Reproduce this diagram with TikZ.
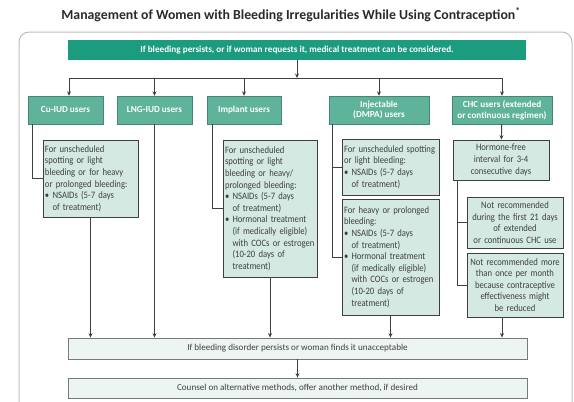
\documentclass[tikz,border=0pt]{standalone}
\usepackage{fontspec}
\setmainfont{Carlito}
\newfontfamily\condfont{Carlito}[FakeStretch=0.88]
\usetikzlibrary{arrows.meta}
\definecolor{titlecol}{HTML}{2A2A2A}
\definecolor{bannercol}{HTML}{1B9C7F}
\definecolor{headcol}{HTML}{5FB39B}
\definecolor{stepcol}{HTML}{D3E9E1}
\definecolor{endcol}{HTML}{ECF5F1}
\definecolor{linecol}{HTML}{3F3F3F}
\definecolor{framecol}{HTML}{BDBDBD}
\newcommand{\bul}{\textbullet\ }
\newcommand{\bulgap}{\hphantom{\textbullet\ }}
\hyphenpenalty=10000
\exhyphenpenalty=10000

\begin{document}
\begin{tikzpicture}[x=1pt,y=-1pt,
  headbox/.style={draw=headcol!75!black,fill=headcol,text=white,align=center,
    font=\fontsize{9.2}{10.8}\selectfont\bfseries,minimum height=28pt,inner sep=1pt},
  stepbox/.style={draw=linecol,fill=stepcol,text=linecol,line width=0.8pt,
    font=\condfont\fontsize{9.8}{11.6}\selectfont,inner sep=2pt},
  endbox/.style={draw=linecol!70,fill=endcol,text=linecol,line width=0.8pt,
    font=\fontsize{9.1}{10}\selectfont,minimum width=459pt,minimum height=21pt,inner sep=0pt},
  link/.style={draw=linecol,line width=0.9pt},
  arr/.style={link,-{Stealth[length=4.5pt,width=4pt]}}]
\useasboundingbox (0,0) rectangle (574,402);

% frame and title
\draw[framecol,line width=1pt,rounded corners=10pt] (19,402) -- (19,32) -- (572,32) -- (572,402);
\node[font=\fontsize{13.8}{16}\selectfont\bfseries,text=titlecol] (title) at (291,15)
  {Management of Women with Bleeding Irregularities While Using Contraception\textsuperscript{*}};
\node[fill=bannercol,text=white,font=\fontsize{9.2}{10}\selectfont\bfseries,
  minimum width=458pt,minimum height=20pt,inner sep=0pt] (banner) at (297,50)
  {If bleeding persists, or if woman requests it, medical treatment can be considered.};

% user groups
\node[headbox,minimum width=75pt] (cu) at (65.5,110) {Cu-IUD users};
\node[headbox,minimum width=75pt] (lng) at (154.5,110) {LNG-IUD users};
\node[headbox,minimum width=74pt] (impl) at (244,110) {Implant users};
\node[headbox,minimum width=100pt] (inj) at (379,110) {Injectable\\(DMPA) users};
\node[headbox,minimum width=100pt] (chc) at (502,110) {CHC users (extended\\or continuous regimen)};

% treatments
\node[stepbox,text width=91pt,minimum height=77pt,align=left] (cubox) at (90.5,178.5)
  {For unscheduled\\spotting or light\\bleeding or for heavy\\or prolonged bleeding:\\
   \bul NSAIDs (5-7 days\\\bulgap of treatment)};
\node[stepbox,text width=90pt,minimum height=137pt,align=left] (implbox) at (270,208.5)
  {For unscheduled\\spotting or light\\bleeding or heavy/\\prolonged bleeding:\\
   \bul NSAIDs (5-7 days\\\bulgap of treatment)\\
   \bul Hormonal treatment\\\bulgap (if medically eligible)\\\bulgap with COCs or estrogen\\
   \bulgap (10-20 days of\\\bulgap treatment)};
\node[stepbox,text width=93pt,minimum height=56pt,align=left] (injbox1) at (390.5,167)
  {For unscheduled spotting\\or light bleeding:\\
   \bul NSAIDs (5-7 days\\\bulgap of treatment)};
\node[stepbox,text width=93pt,minimum height=116pt,align=left] (injbox2) at (390.5,257)
  {For heavy or prolonged\\bleeding:\\
   \bul NSAIDs (5-7 days\\\bulgap of treatment)\\
   \bul Hormonal treatment\\\bulgap (if medically eligible)\\\bulgap with COCs or estrogen\\
   \bulgap (10-20 days of\\\bulgap treatment)};
\node[stepbox,text width=92pt,minimum height=40pt,align=center] (hf) at (501,160)
  {Hormone-free\\interval for 3-4\\consecutive days};
\node[stepbox,text width=92pt,minimum height=51pt,align=center] (nr1) at (515,222.5)
  {Not recommended\\during the first 21 days\\of extended\\or continuous CHC use};
\node[stepbox,text width=92pt,minimum height=64pt,align=center] (nr2) at (515,285)
  {Not recommended more\\than once per month\\because contraceptive\\effectiveness might\\be reduced};

% outcome
\node[endbox] (persist) at (297.5,348.5) {If bleeding disorder persists or woman finds it unacceptable};
\node[endbox,minimum height=20pt] (counsel) at (297.5,388) {Counsel on alternative methods, offer another method, if desired};

% connectors
\coordinate (busL) at (69,78);
\coordinate (busR) at (502,78);
\coordinate (injspine) at ([xshift=4pt]inj.south west);
\coordinate (chcspine) at ([xshift=5pt]hf.south west);
\draw[arr] (banner.south) -- (banner.south |- busL);
\draw[link] (busL) -- (busR);
\draw[arr] (busL) -- (busL |- cu.north);
\draw[arr] (lng.north |- busL) -- (lng.north);
\draw[arr] (impl.north |- busL) -- (impl.north);
\draw[arr] (inj.north |- busL) -- (inj.north);
\draw[arr] (busR) -- (chc.north);

\draw[link] ([xshift=5pt]cu.south west) |- (cubox.west);
\draw[link] ([xshift=6pt]impl.south west) |- (implbox.west);
\draw[link] (injspine) |- (injbox2.west);
\draw[link] (injbox1.west -| injspine) -- (injbox1.west);
\draw[arr] (chc) -- (hf);
\draw[link] (chcspine) |- (nr2.west);
\draw[link] (nr1.west -| chcspine) -- (nr1.west);

\draw[arr] (cubox.south) -- (cubox.south |- persist.north);
\draw[arr] (lng.south) -- (lng.south |- persist.north);
\draw[arr] (implbox.south) -- (implbox.south |- persist.north);
\draw[arr] (injbox2.south) -- (injbox2.south |- persist.north);
\draw[arr] (nr2.south -| chc.south) -- (persist.north -| chc.south);
\draw[arr] (persist) -- (counsel);
\end{tikzpicture}
\end{document}
